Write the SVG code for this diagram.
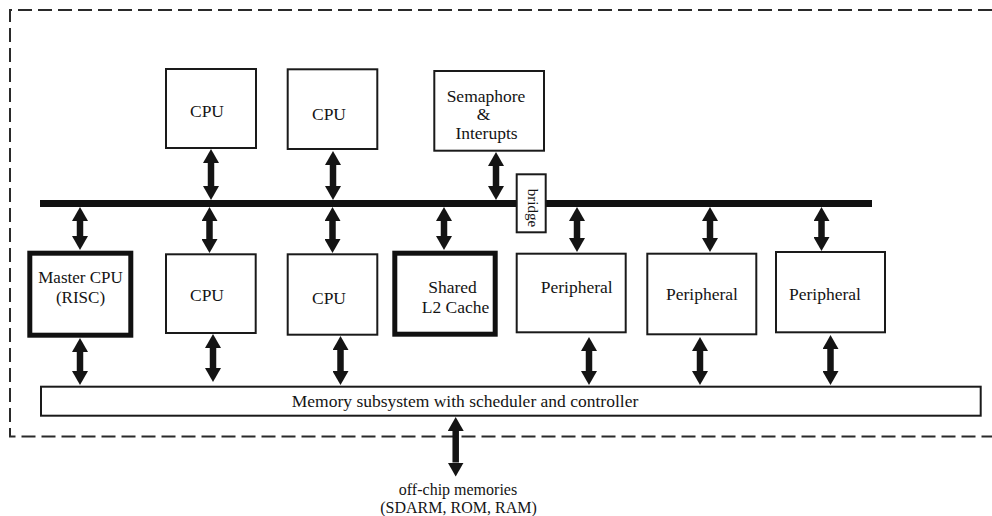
<svg xmlns="http://www.w3.org/2000/svg" width="992" height="516" viewBox="0 0 992 516" font-family="'Liberation Serif', 'DejaVu Serif', serif">
  <style>
    text { font-family: 'Liberation Serif', 'DejaVu Serif', serif; font-size: 17.5px; fill: #141414; text-anchor: middle; }
    .box { fill: #fff; stroke: #1a1a1a; stroke-width: 2; }
    .thick { fill: #fff; stroke: #111; stroke-width: 5; }
    .link { stroke: #141414; stroke-width: 6.5; fill: none; marker-start: url(#head); marker-end: url(#head); }
    .chip { fill: none; stroke: #2a2a2a; stroke-width: 2; stroke-dasharray: 14 6; }
  </style>
  <defs>
    <marker id="head" viewBox="0 0 14 16" refX="0" refY="8" markerWidth="14" markerHeight="16" markerUnits="userSpaceOnUse" orient="auto-start-reverse">
      <path d="M0,0 L14,8 L0,16 z" fill="#141414"/>
    </marker>
  </defs>
  <rect width="992" height="516" fill="#fff"/>

  <!-- chip boundary -->
  <path class="chip" d="M992,10 H10 V436.5 H992"/>

  <!-- system bus -->
  <rect id="bus" x="40" y="200" width="832" height="7" fill="#111"/>

  <g id="connectors">
    <!-- upper nodes to bus -->
    <line class="link" x1="211" y1="163" x2="211" y2="186"/>
    <line class="link" x1="333" y1="165" x2="333" y2="186"/>
    <line class="link" x1="496" y1="166" x2="496" y2="186"/>
    <!-- bus to lower nodes -->
    <line class="link" x1="80" y1="221" x2="80" y2="236"/>
    <line class="link" x1="209.5" y1="221" x2="209.5" y2="239"/>
    <line class="link" x1="332.5" y1="221" x2="332.5" y2="239"/>
    <line class="link" x1="444" y1="221" x2="444" y2="236"/>
    <line class="link" x1="577" y1="221" x2="577" y2="238"/>
    <line class="link" x1="710" y1="221" x2="710" y2="238"/>
    <line class="link" x1="821.5" y1="221" x2="821.5" y2="237"/>
    <!-- lower nodes to memory subsystem -->
    <line class="link" x1="80" y1="352" x2="80" y2="371"/>
    <line class="link" x1="213" y1="348" x2="213" y2="368"/>
    <line class="link" x1="340.5" y1="350" x2="340.5" y2="371"/>
    <line class="link" x1="589" y1="351" x2="589" y2="371"/>
    <line class="link" x1="700" y1="351" x2="700" y2="371"/>
    <line class="link" x1="830.5" y1="349" x2="830.5" y2="371"/>
    <!-- memory subsystem to off-chip memories -->
    <line class="link" x1="455.7" y1="431" x2="455.7" y2="462.5"/>
  </g>

  <g id="cpu-top-1">
    <rect class="box" x="166" y="69" width="90" height="79"/>
    <text x="207" y="117">CPU</text>
  </g>
  <g id="cpu-top-2">
    <rect class="box" x="287.7" y="69.3" width="89.6" height="79.7"/>
    <text x="329" y="120">CPU</text>
  </g>
  <g id="semaphore">
    <rect class="box" x="434.3" y="71" width="109.7" height="79.7"/>
    <text x="486" y="101.5">Semaphore</text>
    <text x="483.5" y="120">&amp;</text>
    <text x="486.5" y="139">Interupts</text>
  </g>
  <g id="bridge">
    <rect class="box" x="516.7" y="174.3" width="29" height="58"/>
    <text x="0" y="0" font-size="15" style="font-size:15px" transform="translate(527.5,208) rotate(90)">bridge</text>
  </g>

  <g id="master-cpu">
    <rect class="thick" x="29.8" y="253.2" width="101" height="82"/>
    <text x="80.5" y="283" style="font-size:17px">Master CPU</text>
    <text x="80.5" y="303" style="font-size:17px">(RISC)</text>
  </g>
  <g id="cpu-bottom-1">
    <rect class="box" x="166" y="254.3" width="89.7" height="78.7"/>
    <text x="207" y="301">CPU</text>
  </g>
  <g id="cpu-bottom-2">
    <rect class="box" x="287.7" y="254.3" width="89.6" height="80.4"/>
    <text x="329" y="304">CPU</text>
  </g>
  <g id="l2-cache">
    <rect class="thick" x="394.8" y="253.2" width="100.4" height="81"/>
    <text x="452.5" y="293">Shared</text>
    <text x="455.5" y="313">L2 Cache</text>
  </g>
  <g id="peripheral-1">
    <rect class="box" x="516.7" y="253.7" width="109" height="78.6"/>
    <text x="576.7" y="293">Peripheral</text>
  </g>
  <g id="peripheral-2">
    <rect class="box" x="647.3" y="253.7" width="109" height="80.6"/>
    <text x="702" y="299.5">Peripheral</text>
  </g>
  <g id="peripheral-3">
    <rect class="box" x="776" y="252" width="109" height="80.3"/>
    <text x="825" y="300">Peripheral</text>
  </g>

  <g id="memory-subsystem">
    <rect class="box" x="41" y="386.7" width="939.7" height="29"/>
    <text x="465" y="406.5">Memory subsystem with scheduler and controller</text>
  </g>

  <g id="off-chip">
    <text x="458" y="494.5" style="font-size:16px">off-chip memories</text>
    <text x="458.5" y="513" style="font-size:16px">(SDARM, ROM, RAM)</text>
  </g>
</svg>
